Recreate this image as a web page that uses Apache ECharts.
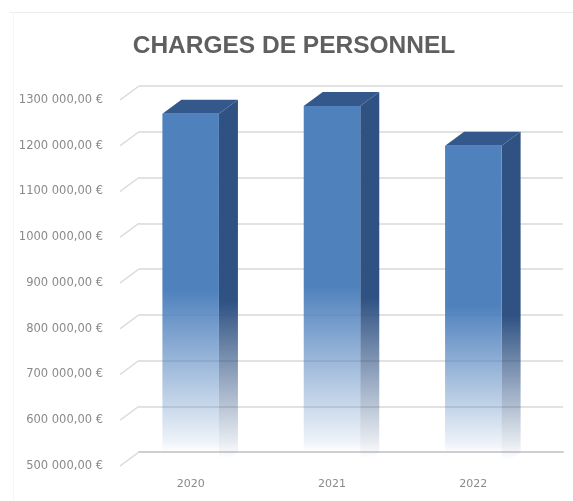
<!DOCTYPE html>
<html>
<head>
<meta charset="utf-8">
<style>
html, body { margin: 0; padding: 0; background: #fff; }
#chart { width: 573px; height: 501px; }
</style>
<script src="https://cdn.jsdelivr.net/npm/echarts@6/dist/echarts.min.js"></script>
</head>
<body>
<div id="chart"></div>
<script>
var categories = ['2020', '2021', '2022'];
var values = [1270000, 1287000, 1200000];
var tickValues = [500000, 600000, 700000, 800000, 900000, 1000000, 1100000, 1200000, 1300000];

// fake 3D: how far the back wall sits from the front plane
var depthX = 19;
var depthY = -14;

// 1300000 -> "1300 000,00 €"
function fmt(v) {
  var s = String(v);
  return s.slice(0, -3) + ' ' + s.slice(-3) + ',00 €';
}

function fade(rgb, solidTo, nearEnd, end) {
  return new echarts.graphic.LinearGradient(0, 0, 0, 1, [
    { offset: 0, color: 'rgba(' + rgb + ',1)' },
    { offset: solidTo, color: 'rgba(' + rgb + ',1)' },
    { offset: nearEnd, color: 'rgba(' + rgb + ',0.1)' },
    { offset: end, color: 'rgba(' + rgb + ',0)' },
    { offset: 1, color: 'rgba(' + rgb + ',0)' }
  ]);
}

var myChart = echarts.init(document.getElementById('chart'));

var option = {
  animation: false,
  backgroundColor: '#fff',
  title: {
    text: 'CHARGES DE PERSONNEL',
    left: 289,
    top: 29,
    textAlign: 'center',
    textStyle: { fontFamily: 'Liberation Sans', fontSize: 24.5, fontWeight: 'bold', color: '#5f5f5f' }
  },
  // chart frame, only its top and left edges show in the crop
  graphic: [
    { type: 'line', silent: true, shape: { x1: 10, y1: 12.5, x2: 573, y2: 12.5 }, style: { stroke: '#ececec', lineWidth: 1 } },
    { type: 'line', silent: true, shape: { x1: 13.5, y1: 12, x2: 13.5, y2: 501 }, style: { stroke: '#f6f6f6', lineWidth: 1 } }
  ],
  grid: [
    { left: 139, top: 86, width: 424, height: 366 },
    { left: 120, top: 100, width: 424, height: 366 }
  ],
  xAxis: [
    {
      gridIndex: 0, type: 'category', data: categories,
      axisLine: { lineStyle: { color: '#cfcfcf', width: 2 } }, axisTick: { show: false }, axisLabel: { show: false }
    },
    {
      gridIndex: 1, type: 'category', data: categories,
      axisLine: { show: false }, axisTick: { show: false },
      axisLabel: { color: '#8a8a8a', fontSize: 11, fontFamily: 'DejaVu Sans', margin: 13 }
    }
  ],
  yAxis: [
    {
      gridIndex: 0, type: 'value', min: 500000, max: 1300000, interval: 100000,
      axisLine: { show: false }, axisTick: { show: false }, axisLabel: { show: false },
      splitLine: { lineStyle: { color: '#d9d9d9', width: 1.5 } }
    },
    {
      gridIndex: 1, type: 'value', min: 500000, max: 1300000, interval: 100000,
      axisLine: { show: false }, axisTick: { show: false }, splitLine: { show: false },
      axisLabel: { color: '#8a8a8a', fontSize: 11.5, fontFamily: 'DejaVu Sans', margin: 17, formatter: fmt }
    }
  ],
  series: [
    {
      // diagonal ticks joining the labels to the back wall
      type: 'custom',
      xAxisIndex: 1,
      yAxisIndex: 1,
      silent: true,
      clip: false,
      z: 1,
      data: tickValues,
      encode: { y: 0 },
      renderItem: function (params, api) {
        var p = api.coord([0, api.value(0)]);
        var x0 = params.coordSys.x;
        return {
          type: 'line',
          shape: { x1: x0, y1: p[1], x2: x0 + depthX, y2: p[1] + depthY },
          style: { stroke: '#d9d9d9', lineWidth: 1.5 }
        };
      }
    },
    {
      type: 'custom',
      xAxisIndex: 1,
      yAxisIndex: 1,
      silent: true,
      clip: false,
      z: 2,
      data: values.map(function (v, i) { return [i, v]; }),
      encode: { x: 0, y: 1 },
      renderItem: function (params, api) {
        var top = api.coord([api.value(0), api.value(1)]);
        var bottom = api.coord([api.value(0), 500000]);
        var w = api.size([1, 0])[0] * 0.4;
        var l = top[0] - w / 2;
        var r = top[0] + w / 2;
        return {
          type: 'group',
          children: [
            {
              type: 'polygon',
              shape: { points: [[r, top[1]], [r + depthX, top[1] + depthY], [r + depthX, bottom[1] + depthY], [r, bottom[1]]] },
              style: { fill: fade('47,82,131', 0.55, 0.94, 0.98) }
            },
            {
              type: 'polygon',
              shape: { points: [[l, top[1]], [l + depthX, top[1] + depthY], [r + depthX, top[1] + depthY], [r, top[1]]] },
              style: { fill: '#34588c' }
            },
            {
              type: 'rect',
              shape: { x: l, y: top[1], width: w, height: bottom[1] - top[1] },
              style: { fill: fade('79,129,189', 0.5, 0.93, 0.96) }
            }
          ]
        };
      }
    }
  ]
};

myChart.setOption(option);
</script>
</body>
</html>
